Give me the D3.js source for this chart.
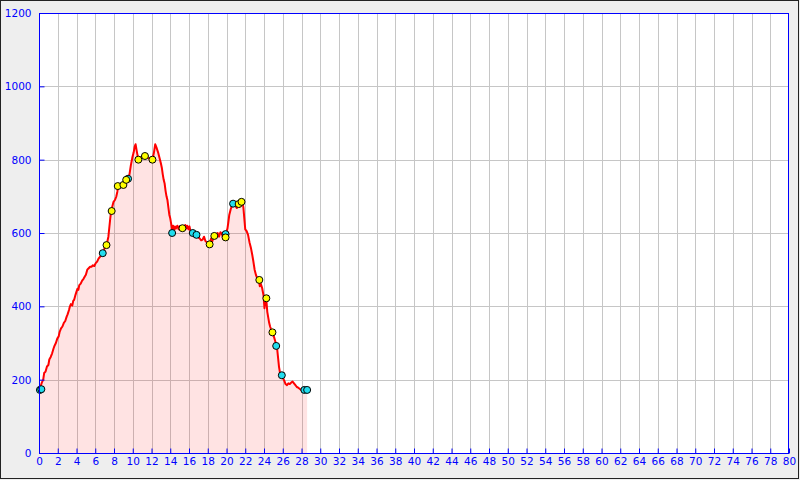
<!DOCTYPE html>
<html><head><meta charset="utf-8">
<script src="https://cdn.jsdelivr.net/npm/d3@7"></script>
<style>
html,body{margin:0;padding:0;background:#eeeeee;}
svg{display:block;}
</style></head>
<body>
<svg id="chart" width="800" height="480"></svg>
<script>
// Distance (km) along the route
const distance = [0.0,0.15,0.3,0.45,0.55,0.7,0.85,1.0,1.1,1.25,1.4,1.55,1.65,1.8,1.95,2.1,2.2,2.35,2.5,2.65,2.8,2.95,3.05,3.2,3.3,3.4,3.55,3.65,3.75,3.9,4.0,4.1,4.2,4.3,4.45,4.6,4.75,4.9,5.0,5.15,5.3,5.45,5.6,5.75,5.9,6.05,6.2,6.35,6.5,6.65,6.8,6.95,7.1,7.25,7.4,7.5,7.6,7.7,7.8,7.95,8.1,8.25,8.35,8.45,8.6,8.8,9.0,9.15,9.3,9.5,9.65,9.8,9.95,10.1,10.2,10.3,10.45,10.6,10.8,11.0,11.3,11.6,11.9,12.1,12.25,12.4,12.55,12.7,12.85,13.0,13.1,13.2,13.3,13.4,13.5,13.6,13.7,13.8,13.9,14.0,14.1,14.2,14.3,14.4,14.5,14.6,14.75,14.9,15.0,15.15,15.3,15.45,15.6,15.7,15.8,15.95,16.05,16.15,16.3,16.5,16.7,16.85,17.0,17.15,17.3,17.45,17.6,17.75,17.9,18.05,18.2,18.35,18.5,18.6,18.75,18.9,19.05,19.2,19.35,19.5,19.65,19.8,19.95,20.1,20.2,20.3,20.45,20.6,20.75,20.9,21.0,21.1,21.25,21.4,21.55,21.7,21.8,21.9,22.0,22.15,22.3,22.45,22.6,22.75,22.85,23.0,23.15,23.3,23.45,23.55,23.65,23.8,23.95,24.05,24.15,24.25,24.35,24.45,24.55,24.65,24.75,24.9,25.05,25.2,25.3,25.4,25.5,25.6,25.7,25.85,26.0,26.15,26.3,26.45,26.6,26.75,26.9,27.05,27.2,27.35,27.5,27.65,27.8,27.95,28.1,28.6];
// Elevation (m)
const elevation = [172,180,192,200,218,222,236,240,255,262,272,285,292,300,312,318,330,340,345,355,360,372,378,390,400,406,402,415,418,432,440,448,445,458,462,470,475,482,486,500,504,508,508,512,510,518,522,530,535,538,545,555,568,572,590,615,640,660,670,685,690,700,712,728,730,732,735,740,745,750,760,785,805,820,835,842,820,800,805,808,812,806,800,800,818,842,832,820,805,790,778,760,745,735,715,700,690,670,650,640,625,610,620,608,618,612,620,610,618,612,615,610,622,612,620,610,618,606,600,598,596,592,588,585,580,582,590,578,575,572,570,585,578,590,595,592,600,590,602,598,585,592,600,612,630,650,665,675,680,682,672,668,678,672,680,685,670,640,610,605,595,575,560,540,525,500,485,475,470,455,462,450,430,395,420,418,385,370,355,345,338,330,318,305,292,285,260,235,220,212,205,198,188,185,190,188,192,195,190,185,180,178,175,172,172,172];

// Waypoint markers
const markerDistance = [0.1,0.25,6.8,7.2,7.75,9.5,8.4,9.0,9.3,10.6,11.3,12.1,14.2,15.3,16.4,16.8,18.2,18.7,19.9,19.9,20.7,21.3,21.6,23.5,24.25,24.9,25.3,25.9,28.3,28.6];
const markerElevation = [172,174,545,567,660,748,728,731,745,800,810,800,600,613,600,595,569,592,597,588,680,679,685,472,422,329,292,212,172,172];
const markerType = ["c","c","c","y","y","c","y","y","y","y","y","y","c","y","c","c","y","y","c","y","c","y","y","y","y","y","c","c","c","c"];

const xTicks = d3.range(0, 81, 2);
const yTicks = [0,200,400,600,800,1000,1200];

const svg = d3.select("#chart");
const L = 39, R = 789, T = 13, B = 453;

svg.append("rect").attr("x",0.5).attr("y",0.5).attr("width",798).attr("height",478)
  .attr("fill","#eeeeee").attr("stroke","#222").attr("stroke-width",1);

const x = d3.scaleLinear().domain([0,80]).range([L,R]);
const y = d3.scaleLinear().domain([0,1200]).range([B,T]);

svg.append("rect").attr("x",L).attr("y",T).attr("width",R-L).attr("height",B-T).attr("fill","#ffffff");

// grid
const g = svg.append("g");
g.selectAll("line.v").data(xTicks.filter(d=>d>0&&d<80)).enter().append("line")
  .attr("x1",d=>Math.round(x(d))+0.5).attr("x2",d=>Math.round(x(d))+0.5)
  .attr("y1",T).attr("y2",B).attr("stroke","#c6c6c6").attr("stroke-width",1);
g.selectAll("line.h").data(yTicks.filter(d=>d>0&&d<1200)).enter().append("line")
  .attr("y1",d=>Math.round(y(d))+0.5).attr("y2",d=>Math.round(y(d))+0.5)
  .attr("x1",L).attr("x2",R).attr("stroke","#c6c6c6").attr("stroke-width",1);

const pts = distance.map((d,i)=>[d,elevation[i]]);
const area = d3.area().x(d=>x(d[0])).y0(y(0)).y1(d=>y(d[1]));
svg.append("path").datum(pts).attr("d",area).attr("fill","rgba(255,0,0,0.11)");
const line = d3.line().x(d=>x(d[0])).y(d=>y(d[1]));
svg.append("path").datum(pts).attr("d",line).attr("fill","none")
  .attr("stroke","#ff0000").attr("stroke-width",2).attr("stroke-linejoin","round");

// markers
svg.append("g").selectAll("circle").data(markerDistance.map((d,i)=>({d, e:markerElevation[i], t:markerType[i]})))
  .enter().append("circle")
  .attr("cx",m=>x(m.d)).attr("cy",m=>y(m.e)).attr("r",3.5)
  .attr("fill",m=>m.t==="y"?"#ffff00":"#22ddee")
  .attr("stroke","#000").attr("stroke-width",1);

// axes
const ax = svg.append("g").attr("transform",`translate(0,${B+0.5})`)
  .call(d3.axisBottom(x).tickValues(xTicks).tickFormat(d3.format("d")).tickSizeInner(-5).tickSizeOuter(0).tickPadding(4));
const ay = svg.append("g").attr("transform",`translate(${L+0.5},0)`)
  .call(d3.axisLeft(y).tickValues(yTicks).tickFormat(d3.format("d")).tickSizeInner(-5).tickSizeOuter(0).tickPadding(8));
[ax,ay].forEach(a=>{
  a.selectAll("path,line").attr("stroke","#0000ff");
  a.selectAll("text").attr("fill","#0000ff").style("font-family","DejaVu Sans").style("font-size","10.5px");
  a.select(".domain").remove();
});
svg.append("rect").attr("x",L+0.5).attr("y",T+0.5).attr("width",R-L-1).attr("height",B-T)
  .attr("fill","none").attr("stroke","#0000ff").attr("stroke-width",1);
</script>
</body></html>
